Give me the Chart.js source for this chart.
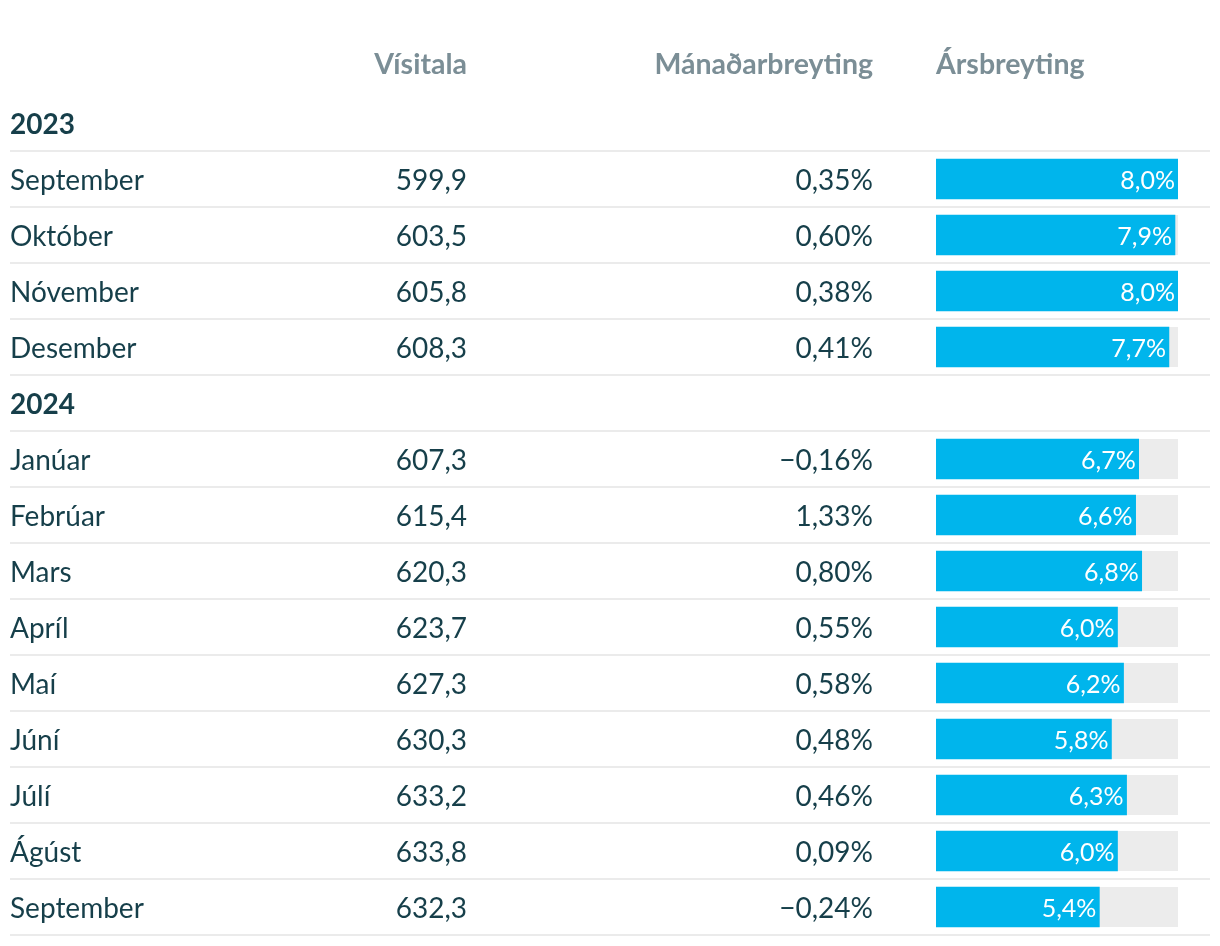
<!DOCTYPE html>
<html lang="is">
<head>
<meta charset="utf-8">
<title>Vísitala</title>
<script src="https://cdn.jsdelivr.net/npm/chart.js@4/dist/chart.umd.min.js"></script>
<style>
  html, body { margin: 0; padding: 0; background: #fff; }
  #wrap { position: relative; width: 1220px; height: 946px; }
</style>
</head>
<body>
<div id="wrap"><canvas id="chart"></canvas></div>
<script>
// rows of the table; year rows carry no values
const rowLabels = ["2023", "September", "Október", "Nóvember", "Desember",
  "2024", "Janúar", "Febrúar", "Mars", "Apríl", "Maí", "Júní", "Júlí", "Ágúst", "September"];
const visitala = [null, 599.9, 603.5, 605.8, 608.3, null, 607.3, 615.4, 620.3, 623.7, 627.3, 630.3, 633.2, 633.8, 632.3];
const manadarbreyting = [null, 0.35, 0.60, 0.38, 0.41, null, -0.16, 1.33, 0.80, 0.55, 0.58, 0.48, 0.46, 0.09, -0.24];
const arsbreyting = [null, 8.0, 7.9, 8.0, 7.7, null, 6.7, 6.6, 6.8, 6.0, 6.2, 5.8, 6.3, 6.0, 5.4];
const columnTitles = ["Vísitala", "Mánaðarbreyting", "Ársbreyting"];
const barMax = 8.0;

const TEXT = "#163f4a";
const HEAD = "#7b8e96";
const RULE = "#ebebeb";
const BAR = "#00b5ec";
const TRACK = "#ececec";
const FONT = "Lato, 'Open Sans', sans-serif";

const fmt = (v, d) => (v < 0 ? "\u2212" : "") + Math.abs(v).toFixed(d).replace(".", ",");

const tablePlugin = {
  id: "tableText",
  beforeDatasetsDraw(chart) {
    const { ctx, scales: { x } } = chart;
    const meta = chart.getDatasetMeta(0);
    ctx.save();
    // grey track behind each bar
    ctx.fillStyle = TRACK;
    meta.data.forEach((bar, i) => {
      if (arsbreyting[i] == null) return;
      const h = bar.height;
      ctx.fillRect(x.getPixelForValue(0), bar.y - h / 2, x.getPixelForValue(barMax) - x.getPixelForValue(0), h);
    });
    ctx.restore();
  },
  afterDatasetsDraw(chart) {
    const { ctx, scales: { x, y } } = chart;
    const meta = chart.getDatasetMeta(0);
    const rowH = y.getPixelForValue(1) - y.getPixelForValue(0);
    ctx.save();

    // column headers
    ctx.font = "bold 28.5px " + FONT;
    ctx.fillStyle = HEAD;
    ctx.textBaseline = "middle";
    ctx.textAlign = "right";
    ctx.fillText(columnTitles[0], 467, 65);
    ctx.fillText(columnTitles[1], 873, 65);
    ctx.textAlign = "left";
    ctx.fillText(columnTitles[2], x.getPixelForValue(0), 65);

    rowLabels.forEach((label, i) => {
      const cy = y.getPixelForValue(i);
      const isYear = visitala[i] == null;

      // rule under the row
      ctx.fillStyle = RULE;
      ctx.fillRect(10, Math.round(cy + rowH / 2) - 1, 1200, 2);

      ctx.fillStyle = TEXT;
      ctx.textAlign = "left";
      ctx.font = (isYear ? "bold 28px " : "28px ") + FONT;
      ctx.fillText(label, 10, cy + 2);
      if (isYear) return;

      ctx.textAlign = "right";
      ctx.fillText(fmt(visitala[i], 1), 467, cy + 2);
      ctx.fillText(fmt(manadarbreyting[i], 2) + "%", 873, cy + 2);

      // value inside the bar
      const bar = meta.data[i];
      ctx.fillStyle = "#ffffff";
      ctx.font = "25px " + FONT;
      ctx.fillText(fmt(arsbreyting[i], 1) + "%", bar.x - 3, cy + 2);
    });
    ctx.restore();
  }
};

new Chart(document.getElementById("chart"), {
  type: "bar",
  data: {
    labels: rowLabels,
    datasets: [{
      label: "Ársbreyting",
      data: arsbreyting,
      backgroundColor: BAR,
      borderWidth: 0,
      barThickness: 40
    }]
  },
  options: {
    indexAxis: "y",
    responsive: true,
    maintainAspectRatio: false,
    animation: false,
    layout: { padding: { left: 936, right: 42, top: 95, bottom: 11 } },
    plugins: { legend: { display: false }, tooltip: { enabled: false } },
    scales: {
      x: { display: false, min: 0, max: barMax },
      y: { display: false, offset: true }
    }
  },
  plugins: [tablePlugin]
});
</script>
</body>
</html>
